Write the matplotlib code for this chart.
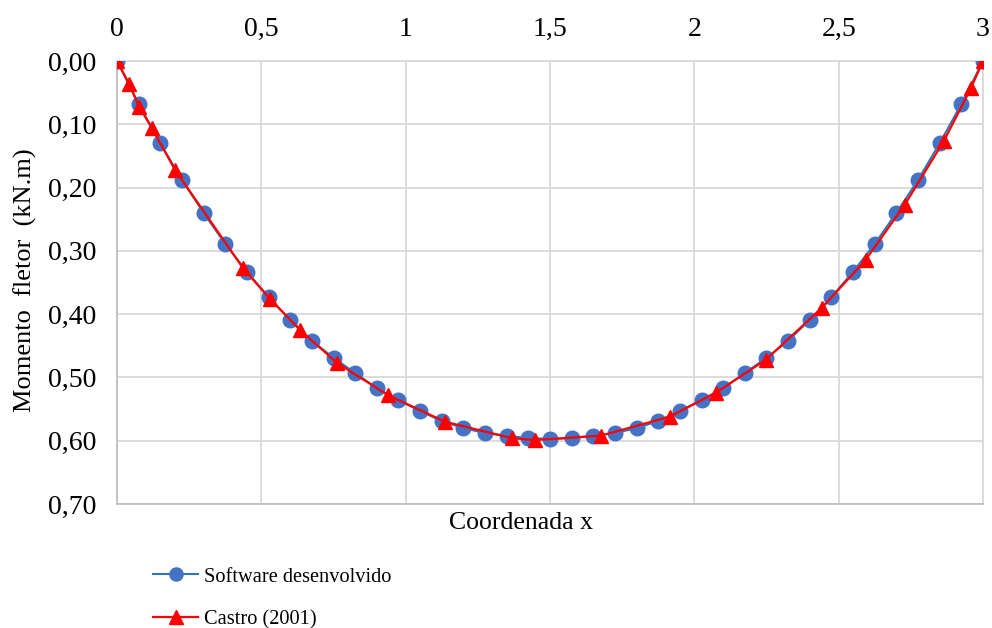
import matplotlib
matplotlib.use("Agg")
import matplotlib.pyplot as plt
from matplotlib.ticker import FixedLocator

# Data
x_soft = [0.0, 0.075, 0.15, 0.225, 0.3, 0.375, 0.45, 0.525, 0.6, 0.675, 0.75,
          0.825, 0.9, 0.975, 1.05, 1.125, 1.2, 1.275, 1.35, 1.425, 1.5,
          1.575, 1.65, 1.725, 1.8, 1.875, 1.95, 2.025, 2.1, 2.175, 2.25,
          2.325, 2.4, 2.475, 2.55, 2.625, 2.7, 2.775, 2.85, 2.925, 3.0]
m_soft = [0.000, 0.068, 0.130, 0.188, 0.240, 0.289, 0.333, 0.373, 0.409, 0.442, 0.469,
          0.493, 0.517, 0.536, 0.553, 0.569, 0.580, 0.588, 0.592, 0.596, 0.597,
          0.596, 0.592, 0.588, 0.580, 0.569, 0.553, 0.536, 0.517, 0.493, 0.469,
          0.442, 0.409, 0.373, 0.333, 0.289, 0.240, 0.188, 0.130, 0.068, 0.000]

x_castro = [0.0, 0.042, 0.076, 0.121, 0.201, 0.436, 0.530, 0.634, 0.762, 0.939,
            1.136, 1.368, 1.448, 1.676, 1.915, 2.075, 2.248, 2.442, 2.594, 2.729,
            2.865, 2.958, 3.0]
m_castro = [0.000, 0.036, 0.072, 0.106, 0.172, 0.327, 0.376, 0.425, 0.477, 0.528,
            0.570, 0.596, 0.599, 0.592, 0.562, 0.524, 0.472, 0.390, 0.314, 0.227,
            0.126, 0.043, 0.000]

x_ticks = [0, 0.5, 1, 1.5, 2, 2.5, 3]
x_tick_labels = ["0", "0,5", "1", "1,5", "2", "2,5", "3"]
y_ticks = [0.0, 0.1, 0.2, 0.3, 0.4, 0.5, 0.6, 0.7]
y_tick_labels = ["0,00", "0,10", "0,20", "0,30", "0,40", "0,50", "0,60", "0,70"]

plt.rcParams['font.family'] = ['Liberation Serif', 'DejaVu Serif']

W, H = 992, 628
fig = plt.figure(figsize=(W / 100, H / 100), dpi=100)
ax = fig.add_axes([117 / W, 1 - 504 / H, (983 - 117) / W, (504 - 61) / H])

l1, = ax.plot(x_soft, m_soft, color='#2E75B6', lw=1.5, marker='o', markersize=10.5,
              markerfacecolor='#4472C4', markeredgecolor='#4472C4',
              label='Software desenvolvido', zorder=3)
l2, = ax.plot(x_castro, m_castro, color='#FF0000', lw=1.6, marker='^', markersize=10.5,
              markerfacecolor='#FF0000', markeredgecolor='#FF0000',
              label='Castro (2001)', zorder=4)

ax.set_xlim(0, 3)
ax.set_ylim(0.7, 0.0)
ax.xaxis.tick_top()
ax.xaxis.set_major_locator(FixedLocator(x_ticks))
ax.set_xticklabels(x_tick_labels, va='baseline')
ax.yaxis.set_major_locator(FixedLocator(y_ticks))
ax.set_yticklabels(y_tick_labels)
ax.tick_params(axis='both', length=0, labelsize=20, colors='#000000')
ax.tick_params(axis='x', pad=18)
ax.tick_params(axis='y', pad=15)

ax.grid(True, color='#D9D9D9', lw=1.3)
ax.set_axisbelow(True)
for s in ['top', 'right']:
    ax.spines[s].set_color('#D9D9D9')
    ax.spines[s].set_linewidth(1.3)
for s in ['left', 'bottom']:
    ax.spines[s].set_color('#BFBFBF')
    ax.spines[s].set_linewidth(1.3)

fig.text(521 / W, 1 - 523 / H, 'Coordenada x', ha='center', va='center', fontsize=18.5)
fig.text(25 / W, 1 - 280 / H, 'Momento  fletor  (kN.m)', ha='center', va='center',
         rotation=90, fontsize=19)

fig.legend(handles=[l1, l2], loc='upper left', bbox_to_anchor=(143 / W, 1 - 557 / H),
           frameon=False, fontsize=14.7, handlelength=2.2, handletextpad=0.3,
           labelspacing=1.15, borderpad=0, markerscale=0.9)

fig.savefig('out.png', dpi=100)
